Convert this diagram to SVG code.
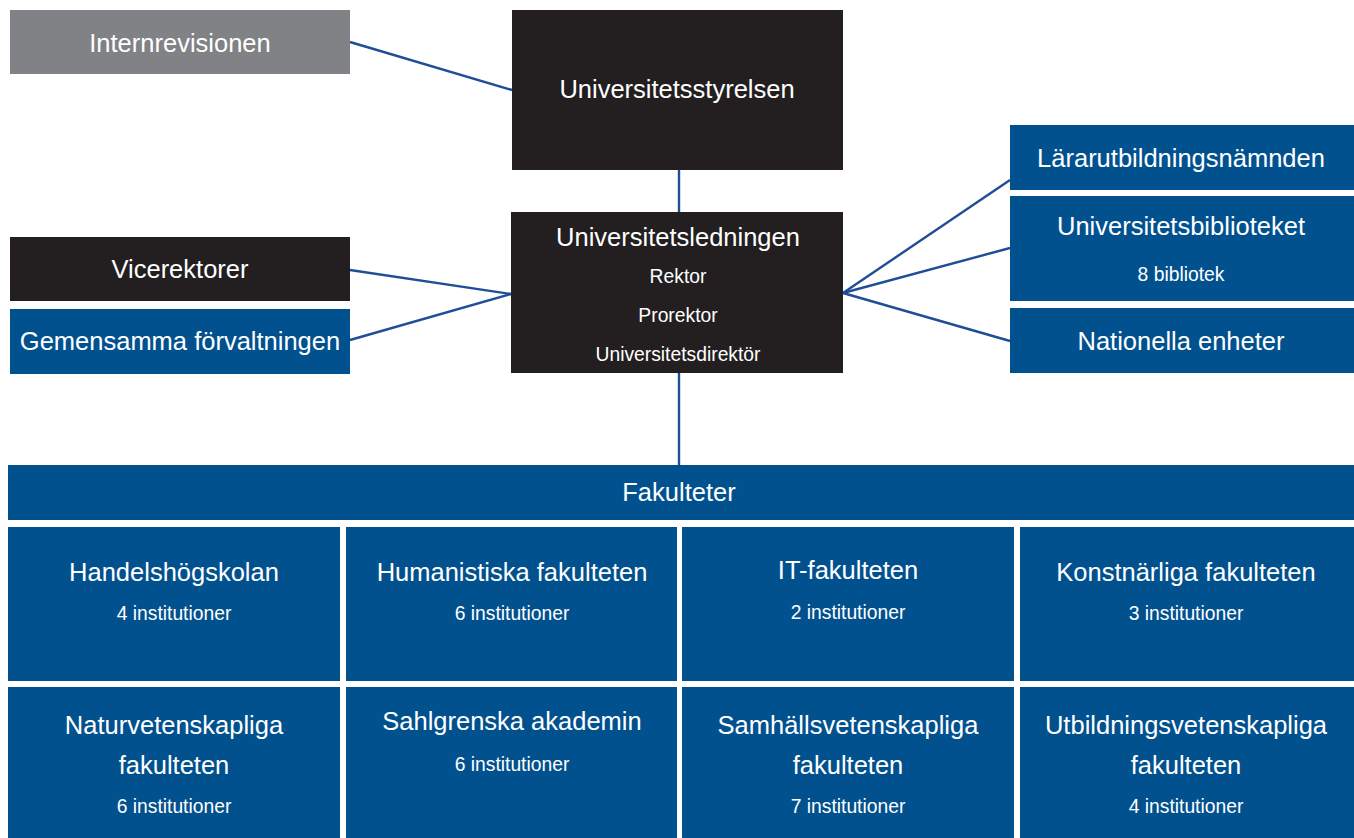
<svg xmlns="http://www.w3.org/2000/svg" width="1354" height="838" viewBox="0 0 1354 838">
<style>
.blue{fill:#02518f}
.black{fill:#231f20}
.gray{fill:#818285}
text{font-family:"Liberation Sans",Arial,sans-serif;fill:#ffffff;text-anchor:middle}
.t{font-size:25.5px}
.s{font-size:19.3px}
.c{stroke:#1f4e96;stroke-width:2.4;fill:none}
</style>
<rect width="1354" height="838" fill="#ffffff"/>
<g id="connectors">
<line class="c" x1="350" y1="42" x2="512" y2="90"/>
<line class="c" x1="679" y1="170" x2="679" y2="212"/>
<line class="c" x1="350" y1="270" x2="511" y2="294"/>
<line class="c" x1="350" y1="340" x2="511" y2="294"/>
<line class="c" x1="843" y1="293" x2="1010" y2="180"/>
<line class="c" x1="843" y1="293" x2="1010" y2="248"/>
<line class="c" x1="843" y1="293" x2="1010" y2="341"/>
<line class="c" x1="679" y1="373" x2="679" y2="465"/>
</g>
<g id="internrevisionen"><rect class="gray" x="10" y="10" width="340" height="64"/><text class="t" x="180" y="52">Internrevisionen</text></g>
<g id="universitetsstyrelsen"><rect class="black" x="512" y="10" width="331" height="160"/><text class="t" x="677" y="98">Universitetsstyrelsen</text></g>
<g id="universitetsledningen"><rect class="black" x="511" y="212" width="332" height="161"/>
<text class="t" x="678" y="246">Universitetsledningen</text>
<text class="s" x="678" y="283">Rektor</text>
<text class="s" x="678" y="322">Prorektor</text>
<text class="s" x="678" y="361">Universitetsdirektör</text></g>
<g id="vicerektorer"><rect class="black" x="10" y="237" width="340" height="64"/><text class="t" x="180" y="278">Vicerektorer</text></g>
<g id="gemensamma"><rect class="blue" x="10" y="309" width="340" height="65"/><text class="t" x="180" y="350">Gemensamma förvaltningen</text></g>
<g id="lararutbildningsnamnden"><rect class="blue" x="1010" y="125" width="344" height="65"/><text class="t" x="1181" y="167">Lärarutbildningsnämnden</text></g>
<g id="universitetsbiblioteket"><rect class="blue" x="1010" y="196" width="344" height="105"/><text class="t" x="1181" y="235">Universitetsbiblioteket</text><text class="s" x="1181" y="281">8 bibliotek</text></g>
<g id="nationella"><rect class="blue" x="1010" y="308" width="344" height="65"/><text class="t" x="1181" y="350">Nationella enheter</text></g>
<g id="fakulteter"><rect class="blue" x="8" y="465" width="1346" height="55"/><text class="t" x="679" y="501">Fakulteter</text></g>
<g id="handelshogskolan"><rect class="blue" x="8" y="527" width="332" height="154"/><text class="t" x="174" y="581">Handelshögskolan</text><text class="s" x="174" y="620">4 institutioner</text></g>
<g id="humanistiska"><rect class="blue" x="346" y="527" width="331" height="154"/><text class="t" x="512" y="581">Humanistiska fakulteten</text><text class="s" x="512" y="620">6 institutioner</text></g>
<g id="it"><rect class="blue" x="682" y="527" width="332" height="154"/><text class="t" x="848" y="579">IT-fakulteten</text><text class="s" x="848" y="619">2 institutioner</text></g>
<g id="konstnarliga"><rect class="blue" x="1020" y="527" width="334" height="154"/><text class="t" x="1186" y="581">Konstnärliga fakulteten</text><text class="s" x="1186" y="620">3 institutioner</text></g>
<g id="naturvetenskapliga"><rect class="blue" x="8" y="687" width="332" height="151"/><text class="t" x="174" y="734">Naturvetenskapliga</text><text class="t" x="174" y="774">fakulteten</text><text class="s" x="174" y="813">6 institutioner</text></g>
<g id="sahlgrenska"><rect class="blue" x="346" y="687" width="331" height="151"/><text class="t" x="512" y="730">Sahlgrenska akademin</text><text class="s" x="512" y="771">6 institutioner</text></g>
<g id="samhallsvetenskapliga"><rect class="blue" x="682" y="687" width="332" height="151"/><text class="t" x="848" y="734">Samhällsvetenskapliga</text><text class="t" x="848" y="774">fakulteten</text><text class="s" x="848" y="813">7 institutioner</text></g>
<g id="utbildningsvetenskapliga"><rect class="blue" x="1020" y="687" width="334" height="151"/><text class="t" x="1186" y="734">Utbildningsvetenskapliga</text><text class="t" x="1186" y="774">fakulteten</text><text class="s" x="1186" y="813">4 institutioner</text></g>
</svg>
